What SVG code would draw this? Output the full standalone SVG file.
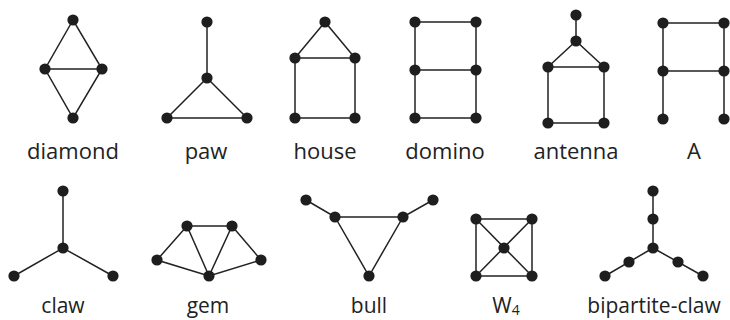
<svg xmlns="http://www.w3.org/2000/svg" width="730" height="320" viewBox="0 0 730 320">
<style>
.e{stroke:#222;stroke-width:1.5;fill:none}
.n{fill:#1e1e1e}
.t{font-family:"Open Sans","Liberation Sans",sans-serif;font-size:22px;fill:#222;text-anchor:middle}
.b{font-size:21px}
</style>
<defs><circle id="d" r="5.6" class="n"/></defs>
<rect width="730" height="320" fill="#fff"/>
<g id="connectors" class="e">
<path d="M73,20L45,69L73,118L102,69Z M45,69H102"/>
<path d="M207,22V78 M207,78L167,118H247Z"/>
<path d="M325,22L295,58L355,58Z M295,58V118H355V58"/>
<path d="M415,22H476V118H415Z M415,70H476"/>
<path d="M576,15V41 M576,41L548,67L604,67Z M548,67V123H604V67"/>
<path d="M663,23H724V119 M663,23V119 M663,71H724"/>
<path d="M63,191V248 M14,276L63,248L113,276"/>
<path d="M157,260L187,226H232L261,260L209,276Z M187,226L209,276L232,226"/>
<path d="M306,200L335,217H403L433,200 M335,217L369,276L403,217"/>
<path d="M476,219H532V276H476Z M476,219L532,276 M532,219L476,276"/>
<path d="M653,191V248 M653,248L605,276 M653,248L703,276"/>
</g>
<g id="diamond">
<use href="#d" x="73" y="20"/><use href="#d" x="45" y="69"/><use href="#d" x="102" y="69"/><use href="#d" x="73" y="118"/>
<text class="t" x="73" y="159">diamond</text>
</g>
<g id="paw">
<use href="#d" x="207" y="22"/><use href="#d" x="207" y="78"/><use href="#d" x="167" y="118"/><use href="#d" x="247" y="118"/>
<text class="t" x="206" y="159">paw</text>
</g>
<g id="house">
<use href="#d" x="325" y="22"/><use href="#d" x="295" y="58"/><use href="#d" x="355" y="58"/><use href="#d" x="295" y="118"/><use href="#d" x="355" y="118"/>
<text class="t" x="325" y="159">house</text>
</g>
<g id="domino">
<use href="#d" x="415" y="22"/><use href="#d" x="476" y="22"/><use href="#d" x="415" y="70"/><use href="#d" x="476" y="70"/><use href="#d" x="415" y="118"/><use href="#d" x="476" y="118"/>
<text class="t" x="445" y="159">domino</text>
</g>
<g id="antenna">
<use href="#d" x="576" y="15"/><use href="#d" x="576" y="41"/><use href="#d" x="548" y="67"/><use href="#d" x="604" y="67"/><use href="#d" x="548" y="123"/><use href="#d" x="604" y="123"/>
<text class="t" x="576" y="159">antenna</text>
</g>
<g id="A">
<use href="#d" x="663" y="23"/><use href="#d" x="724" y="23"/><use href="#d" x="663" y="71"/><use href="#d" x="724" y="71"/><use href="#d" x="663" y="119"/><use href="#d" x="724" y="119"/>
<text class="t" x="694" y="159">A</text>
</g>
<g id="claw">
<use href="#d" x="63" y="191"/><use href="#d" x="63" y="248"/><use href="#d" x="14" y="276"/><use href="#d" x="113" y="276"/>
<text class="t b" x="63" y="313">claw</text>
</g>
<g id="gem">
<use href="#d" x="187" y="226"/><use href="#d" x="232" y="226"/><use href="#d" x="157" y="260"/><use href="#d" x="261" y="260"/><use href="#d" x="209" y="276"/>
<text class="t b" x="208" y="313">gem</text>
</g>
<g id="bull">
<use href="#d" x="306" y="200"/><use href="#d" x="335" y="217"/><use href="#d" x="403" y="217"/><use href="#d" x="433" y="200"/><use href="#d" x="369" y="276"/>
<text class="t b" x="369" y="313">bull</text>
</g>
<g id="W4">
<use href="#d" x="476" y="219"/><use href="#d" x="532" y="219"/><use href="#d" x="476" y="276"/><use href="#d" x="532" y="276"/><use href="#d" x="504" y="248"/>
<text class="t b" x="506" y="313">W<tspan font-size="14" dy="2">4</tspan></text>
</g>
<g id="bipartite-claw">
<use href="#d" x="653" y="191"/><use href="#d" x="653" y="219"/><use href="#d" x="653" y="248"/><use href="#d" x="629" y="262"/><use href="#d" x="605" y="276"/><use href="#d" x="678" y="262"/><use href="#d" x="703" y="276"/>
<text class="t b" x="654" y="313">bipartite-claw</text>
</g>
</svg>
